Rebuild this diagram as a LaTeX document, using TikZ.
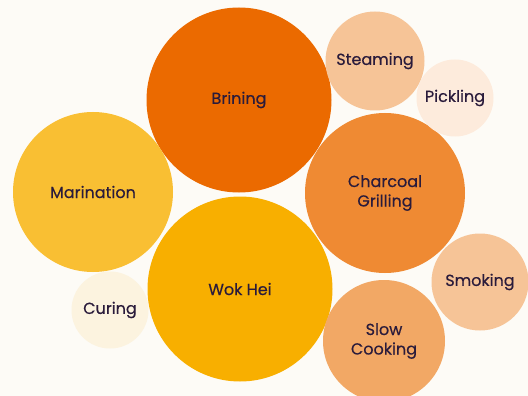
\documentclass[tikz,border=0pt]{standalone}
\usepackage{fontspec}
\setmainfont{Poppins}[FakeBold=0.4]
\definecolor{bgcream}{HTML}{FDFBF6}
\definecolor{inkpurple}{HTML}{2A1B3B}
\definecolor{brinecol}{HTML}{EB6A00}
\definecolor{woklcol}{HTML}{F8AF00}
\definecolor{marinecol}{HTML}{F9BF33}
\definecolor{grillcol}{HTML}{EF8A33}
\definecolor{steamcol}{HTML}{F6C497}
\definecolor{picklecol}{HTML}{FDEBDC}
\definecolor{smokecol}{HTML}{F6C497}
\definecolor{slowcol}{HTML}{F2A865}
\definecolor{curecol}{HTML}{FCF3DF}
\begin{document}
\begin{tikzpicture}[x=1pt, y=-1pt,
    bubble/.style={circle, inner sep=0pt, text=inkpurple, align=center,
      font=\fontsize{16}{19.5}\selectfont}]
    \fill[bgcream] (0,0) rectangle (528,396);
    \useasboundingbox (0,0) rectangle (528,396);
    \clip (0,0) rectangle (528,396);
    % big ones
    \node[bubble, fill=brinecol, minimum size=185pt] (brining) at (239,100) {Brining};
    \node[bubble, fill=woklcol, minimum size=185pt] (wokhei) at (240,289) {Wok Hei};
    \node[bubble, fill=marinecol, minimum size=160pt] (marination) at (93,192) {Marination};
    \node[bubble, fill=grillcol, minimum size=160pt] (charcoal) at (385,193) {Charcoal\\Grilling};
    % small ones
    \node[bubble, fill=steamcol, minimum size=99pt] (steaming) at (375,61) {Steaming};
    \node[bubble, fill=picklecol, minimum size=77pt] (pickling) at (455,98) {Pickling};
    \node[bubble, fill=smokecol, minimum size=97pt] (smoking) at (480,282) {Smoking};
    \node[bubble, fill=slowcol, minimum size=122pt] (slowcooking) at (384,341) {Slow\\Cooking};
    \node[bubble, fill=curecol, minimum size=77pt] (curing) at (110,310) {Curing};
\end{tikzpicture}
\end{document}
